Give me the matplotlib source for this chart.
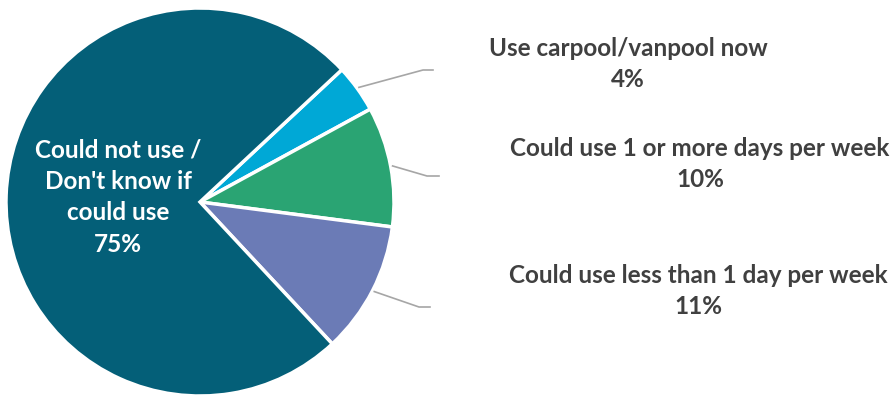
import numpy as np
import matplotlib.pyplot as plt

# slices, clockwise from the top-right
labels = ['Use carpool/vanpool now', 'Could use 1 or more days per week',
          'Could use less than 1 day per week', "Could not use /\nDon't know if\ncould use"]
values = [4, 10, 11, 75]
colors = ['#00a8d6', '#2aa473', '#6b7bb6', '#045f78']

W, H = 896, 395
fig = plt.figure(figsize=(W / 100, H / 100), dpi=100)
ax = fig.add_axes([0, 0, 1, 1])

cx, cy, r = 200, 193, 194
start = 43
wedges, _ = ax.pie(values, colors=colors, startangle=start, counterclock=False,
                   center=(cx, cy), radius=r, frame=True,
                   wedgeprops=dict(edgecolor='white', linewidth=2.5))
ax.set_xlim(0, W)
ax.set_ylim(0, H)
ax.set_aspect('equal')
ax.axis('off')

font = dict(family=['Lato', 'DejaVu Sans'], fontweight='bold', fontsize=17.5)

# outside labels with leader lines
text_pos = [(628, 331), (700, 231), (698, 104)]
elbow = [(423, 325), (427, 219), (419, 88)]
line_end = [433, 439, 430]
for i in range(3):
    w = wedges[i]
    mid = np.deg2rad((w.theta1 + w.theta2) / 2)
    x0 = cx + r * 1.01 * np.cos(mid)
    y0 = cy + r * 1.01 * np.sin(mid)
    ex, ey = elbow[i]
    ax.plot([x0, ex, line_end[i]], [y0, ey, ey], color='#a6a6a6', lw=1.2)
    tx, ty = text_pos[i]
    ax.text(tx, ty, f'{labels[i]}\n{values[i]}%', ha='center', va='center',
            color='#404040', linespacing=1.38, **font)

# inside label for the big slice
ax.text(118, H - 197, f'{labels[3]}\n{values[3]}%', ha='center', va='center',
        color='white', linespacing=1.45, **font)

fig.savefig('out.png', dpi=100)
